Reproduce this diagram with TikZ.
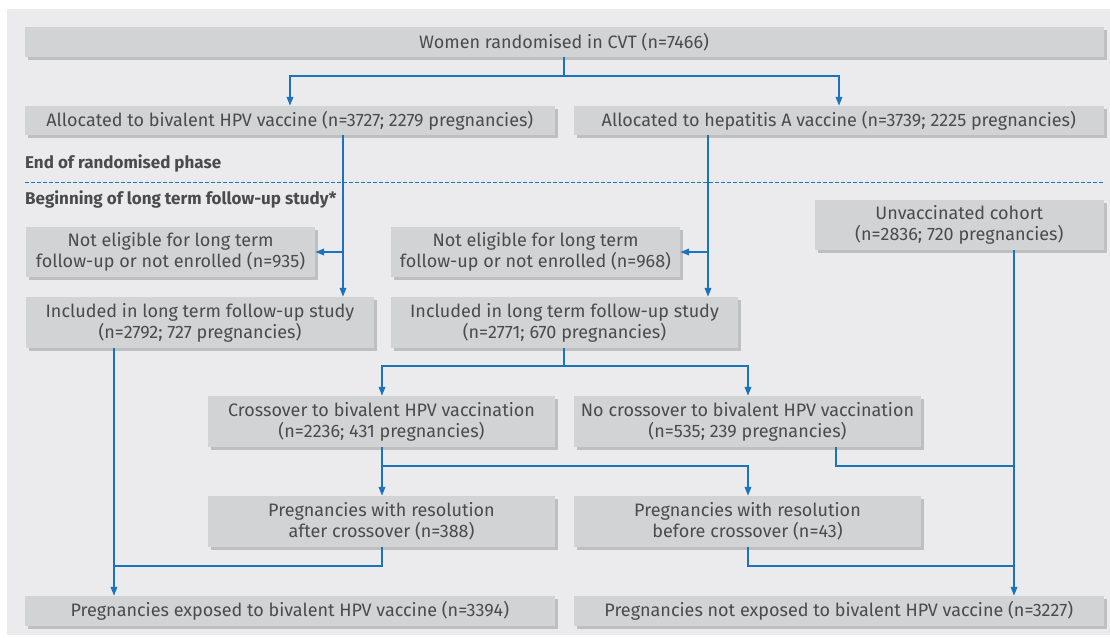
\documentclass[tikz,border=0pt]{standalone}
\usepackage{fontspec}
\setmainfont{Fira Sans}
\usetikzlibrary{arrows.meta,shadows}
\definecolor{panelbg}{HTML}{EBEBED}
\definecolor{boxfill}{HTML}{D2D3D5}
\definecolor{boxshadow}{HTML}{BEBFC1}
\definecolor{flowblue}{HTML}{1B72BD}
\definecolor{txt}{HTML}{4A4B4D}
\tikzset{
  fbox/.style={fill=boxfill, draw=none, inner sep=0pt, align=center, text=txt,
    font=\fontsize{18}{21}\selectfont,
    drop shadow={shadow xshift=3pt, shadow yshift=-3pt, fill=boxshadow, opacity=1}},
  conn/.style={draw=flowblue, line width=1.9pt},
  arr/.style={conn, -{Triangle[length=9pt,width=6.5pt]}},
  hdr/.style={anchor=west, inner sep=0pt, text=txt, font=\fontsize{17}{20}\selectfont\bfseries}
}
\begin{document}
\begin{tikzpicture}[x=1pt,y=-1pt]
\useasboundingbox (0,0) rectangle (1110,637);
\fill[white] (0,0) rectangle (1110,637);
\fill[panelbg] (7,9) rectangle (1110,635);

\node[fbox, minimum width=1079pt, minimum height=30pt] (women) at (564.1,42) {Women randomised in CVT (n=7466)};
\node[fbox, minimum width=530.4pt, minimum height=29pt] (alloc1) at (289.8,120.5) {Allocated to bivalent HPV vaccine (n=3727; 2279 pregnancies)};
\node[fbox, minimum width=529.6pt, minimum height=29pt] (alloc2) at (838.8,120.5) {Allocated to hepatitis A vaccine (n=3739; 2225 pregnancies)};

\node[hdr] (endr) at (25,163) {End of randomised phase};
\node[hdr] (begin) at (25,199) {Beginning of long term follow-up study*};
\coordinate (dl) at (25,182);
\coordinate (dr) at (1104,182);
\draw[flowblue, line width=0.8pt, dash pattern=on 3.5pt off 2.5pt] (dl) -- (dr);

\node[fbox, minimum width=289pt, minimum height=50pt] (ne1) at (170.5,252) {Not eligible for long term\\follow-up or not enrolled (n=935)};
\node[fbox, minimum width=348pt, minimum height=51pt] (inc1) at (200,322.5) {Included in long term follow-up study\\(n=2792; 727 pregnancies)};
\node[fbox, minimum width=289pt, minimum height=50pt] (ne2) at (535.5,252) {Not eligible for long term\\follow-up or not enrolled (n=968)};
\node[fbox, minimum width=347pt, minimum height=51pt] (inc2) at (564.5,322.5) {Included in long term follow-up study\\(n=2771; 670 pregnancies)};
\node[fbox, minimum width=289pt, minimum height=50pt] (unvac) at (959.3,225) {Unvaccinated cohort\\(n=2836; 720 pregnancies)};

\node[fbox, minimum width=347pt, minimum height=51pt] (cross) at (381.5,421.5) {Crossover to bivalent HPV vaccination\\(n=2236; 431 pregnancies)};
\node[fbox, minimum width=347pt, minimum height=51pt] (nocross) at (747.5,421.5) {No crossover to bivalent HPV vaccination\\(n=535; 239 pregnancies)};
\node[fbox, minimum width=347pt, minimum height=51pt] (after) at (381.5,521.5) {Pregnancies with resolution\\after crossover (n=388)};
\node[fbox, minimum width=347pt, minimum height=51pt] (before) at (747.5,521.5) {Pregnancies with resolution\\before crossover (n=43)};

\node[fbox, minimum width=530.4pt, minimum height=30pt] (exp) at (289.8,611) {Pregnancies exposed to bivalent HPV vaccine (n=3394)};
\node[fbox, minimum width=529.6pt, minimum height=30pt] (notexp) at (838.8,611) {Pregnancies not exposed to bivalent HPV vaccine (n=3227)};

% junction coordinates
\coordinate (j0) at (564,76);
\coordinate (j0l) at (290,76);
\coordinate (j0r) at (839,76);
\coordinate (c1) at (343,252);
\coordinate (c2) at (708,252);
\coordinate (j2) at (564,366);
\coordinate (j2l) at (382,366);
\coordinate (j2r) at (748,366);
\coordinate (j3) at (382,466);
\coordinate (j3r) at (748,466);
\coordinate (j4) at (836,466);
\coordinate (m1) at (1014,466);
\coordinate (j5) at (382,566);
\coordinate (j5l) at (114,566);
\coordinate (j6) at (748,566);
\coordinate (m2) at (1014,566);

\draw[conn] (women.south -| j0) -- (j0);
\draw[arr] (j0) -- (j0l) -- (alloc1.north -| j0l);
\draw[arr] (j0) -- (j0r) -- (alloc2.north -| j0r);

\draw[arr] (alloc1.south -| c1) -- (inc1.north -| c1);
\draw[arr] (c1) -- (ne1.east |- c1);
\draw[arr] (alloc2.south -| c2) -- (inc2.north -| c2);
\draw[arr] (c2) -- (ne2.east |- c2);

\draw[conn] (inc2.south -| j2) -- (j2);
\draw[arr] (j2) -- (j2l) -- (cross.north -| j2l);
\draw[arr] (j2) -- (j2r) -- (nocross.north -| j2r);

\draw[conn] (cross.south -| j3) -- (j3);
\draw[arr] (j3) -- (j3r) -- (before.north -| j3r);
\draw[arr] (j3) -- (after.north -| j3);

\draw[conn] (nocross.south -| j4) -- (j4) -- (m1);
\draw[conn] (before.south -| j6) -- (j6) -- (m2);
\draw[arr] (unvac.south -| m1) -- (notexp.north -| m1);

\draw[conn] (after.south -| j5) -- (j5) -- (j5l);
\draw[arr] (inc1.south -| j5l) -- (exp.north -| j5l);
\end{tikzpicture}
\end{document}
